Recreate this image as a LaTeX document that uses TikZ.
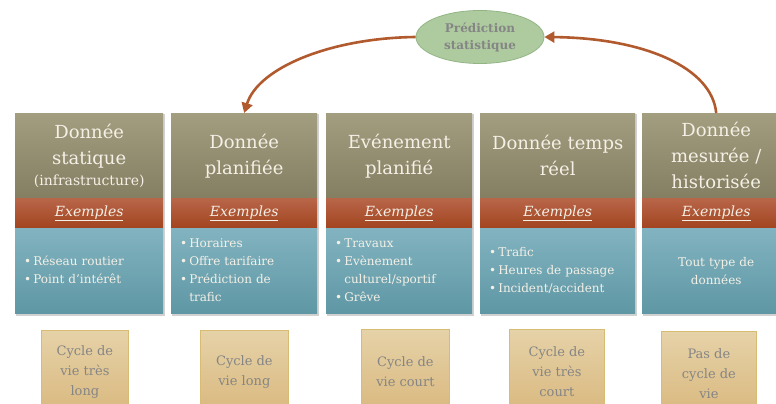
\documentclass[tikz,border=0pt]{standalone}
\usepackage{fontspec}
\setmainfont{DejaVu Serif}
\usetikzlibrary{arrows.meta,shapes.geometric}
\definecolor{olT}{HTML}{A39E80}
\definecolor{olB}{HTML}{847E62}
\definecolor{rdT}{HTML}{B8664A}
\definecolor{rdB}{HTML}{A2441E}
\definecolor{blT}{HTML}{82B3C0}
\definecolor{blB}{HTML}{5F97A5}
\definecolor{txW}{HTML}{F4F0E6}
\definecolor{gnF}{HTML}{AECB9F}
\definecolor{gnD}{HTML}{93B585}
\definecolor{gdT}{HTML}{E6D2A8}
\definecolor{gdB}{HTML}{D9B87E}
\definecolor{gdD}{HTML}{D9BC74}
\definecolor{grT}{HTML}{858585}
\definecolor{arC}{HTML}{B15A2E}
\begin{document}
\begin{tikzpicture}[x=1pt,y=-1pt,
  titlebox/.style={rectangle, anchor=north west, minimum height=85pt, inner sep=0pt,
     top color=olT, bottom color=olB, text=txW, align=center,
     font=\fontsize{18}{26}\selectfont},
  bandbox/.style={rectangle, anchor=north west, minimum height=30pt, inner sep=0pt,
     top color=rdT, bottom color=rdB, text=txW,
     font=\fontsize{14}{17}\selectfont\itshape},
  bodybox/.style={rectangle, anchor=north west, minimum height=85pt, inner xsep=9pt, inner ysep=0pt,
     top color=blT, bottom color=blB, text=txW, align=left,
     font=\fontsize{12}{18}\selectfont},
  shadowbox/.style={fill=black, opacity=0.18},
  cyclebox/.style={rectangle, anchor=north west, minimum height=84pt, inner sep=0pt,
     top color=gdT, bottom color=gdB, draw=gdD, line width=0.8pt, text=grT, align=center,
     font=\fontsize{13}{20}\selectfont},
  arr/.style={draw=arC, line width=2.6pt, -{Triangle[length=10pt,width=11pt]}},
]
\useasboundingbox (0,0) rectangle (776,404);
\clip (0,0) rectangle (776,404);
\fill[white] (0,0) rectangle (776,404);

% shadows
\foreach \a/\b in {15/163,171/317,326/472,480/635,642/790}{
  \fill[shadowbox] (\a+1,114) rectangle (\b+2,316);
}

% column 1
\node[titlebox, minimum width=148pt] (t1) at (15,113) {Donnée\\statique\\[-5pt]{\fontsize{14}{18}\selectfont(infrastructure)}};
\node[bandbox, minimum width=148pt] (e1) at (15,198) {\underline{Exemples}};
\node[bodybox, minimum width=148pt, text width=130pt] (b1) at (15,228)
  {\begin{tabular}{@{}l@{\,}l@{}}•&Réseau routier\\ •&Point d’intérêt\end{tabular}};

% column 2
\node[titlebox, minimum width=146pt] (t2) at (171,113) {Donnée\\planifiée};
\node[bandbox, minimum width=146pt] (e2) at (171,198) {\underline{Exemples}};
\node[bodybox, minimum width=146pt, text width=128pt] (b2) at (171,228)
  {\begin{tabular}{@{}l@{\,}l@{}}•&Horaires\\ •&Offre tarifaire\\ •&Prédiction de\\ &trafic\end{tabular}};

% column 3
\node[titlebox, minimum width=146pt] (t3) at (326,113) {Evénement\\planifié};
\node[bandbox, minimum width=146pt] (e3) at (326,198) {\underline{Exemples}};
\node[bodybox, minimum width=146pt, text width=128pt] (b3) at (326,228)
  {\begin{tabular}{@{}l@{\,}l@{}}•&Travaux\\ •&Evènement\\ &culturel/sportif\\ •&Grêve\end{tabular}};

% column 4
\node[titlebox, minimum width=155pt] (t4) at (480,113) {Donnée temps\\réel};
\node[bandbox, minimum width=155pt] (e4) at (480,198) {\underline{Exemples}};
\node[bodybox, minimum width=155pt, text width=137pt] (b4) at (480,228)
  {\begin{tabular}{@{}l@{\,}l@{}}•&Trafic\\ •&Heures de passage\\ •&Incident/accident\end{tabular}};

% column 5
\node[titlebox, minimum width=148pt] (t5) at (642,113) {Donnée\\mesurée /\\historisée};
\node[bandbox, minimum width=148pt] (e5) at (642,198) {\underline{Exemples}};
\node[bodybox, minimum width=148pt, text width=130pt, align=center] (b5) at (642,228)
  {Tout type de\\données};

% prediction ellipse
\node[ellipse, minimum width=128pt, minimum height=53pt, inner sep=0pt, fill=gnF, draw=gnD, line width=0.8pt,
  text=grT, align=center, font=\fontsize{12}{17}\selectfont\bfseries] (pred) at (480,37) {Prédiction\\statistique};

% arrows
\draw[arr] (pred.west) .. controls (330,38) and (258,68) .. (t2.north);
\draw[arr] (t5.north) .. controls (712,68) and (645,38) .. (pred.east);

% cycle boxes
\node[cyclebox, minimum width=87pt] (c1) at (41,330) {Cycle de\\vie très\\long};
\node[cyclebox, minimum width=88pt] (c2) at (200,330) {Cycle de\\vie long};
\node[cyclebox, minimum width=88pt] (c3) at (361,329) {Cycle de\\vie court};
\node[cyclebox, minimum width=95pt] (c4) at (509,329) {Cycle de\\vie très\\court};
\node[cyclebox, minimum width=95pt] (c5) at (661,331) {Pas de\\cycle de\\vie};
\end{tikzpicture}
\end{document}
